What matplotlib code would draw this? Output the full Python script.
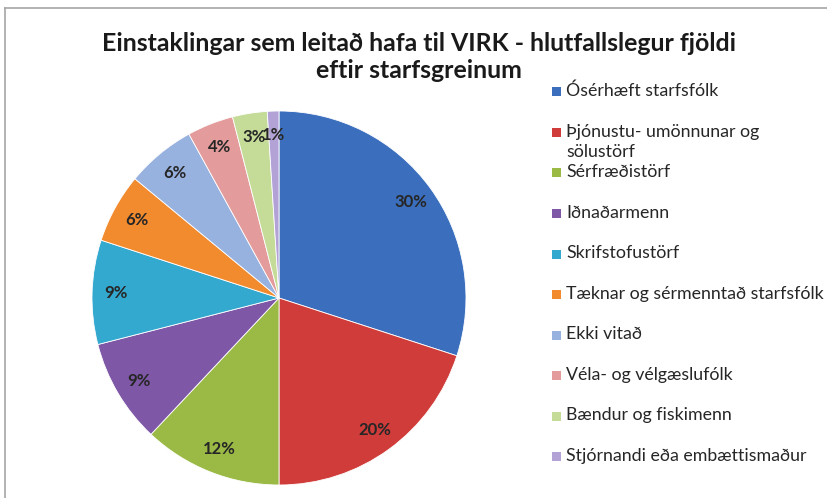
import matplotlib
matplotlib.use("Agg")
import matplotlib.pyplot as plt
from matplotlib.patches import Rectangle

title = "Einstaklingar sem leitað hafa til VIRK - hlutfallslegur fjöldi\neftir starfsgreinum"
categories = [
    "Ósérhæft starfsfólk",
    "Þjónustu- umönnunar og\nsölustörf",
    "Sérfræðistörf",
    "Iðnaðarmenn",
    "Skrifstofustörf",
    "Tæknar og sérmenntað starfsfólk",
    "Ekki vitað",
    "Véla- og vélgæslufólk",
    "Bændur og fiskimenn",
    "Stjórnandi eða embættismaður",
]
values = [30, 20, 12, 9, 9, 6, 6, 4, 3, 1]
colors = ["#3b6fbd", "#d03c3a", "#9aba45", "#7e57a6", "#33a9cf",
          "#f28a2e", "#98b2e0", "#e49b9b", "#c5dc99", "#b3a2d6"]

W, H = 827, 498
fig = plt.figure(figsize=(W / 100, H / 100), dpi=100)
fig.patch.set_facecolor("white")
plt.rcParams['font.family'] = ['Lato', 'DejaVu Sans']

# chart border (top and left visible)
fig.add_artist(plt.Line2D([5 / W, 1.0], [1 - 8 / H, 1 - 8 / H], color="#a6a6a6", lw=1.2,
                          transform=fig.transFigure))
fig.add_artist(plt.Line2D([5 / W, 5 / W], [0, 1 - 8 / H], color="#a6a6a6", lw=1.2,
                          transform=fig.transFigure))

# pie
cx, cy, r = 279, 298, 187
ax = fig.add_axes([(cx - r) / W, (H - cy - r) / H, 2 * r / W, 2 * r / H])
wedges, texts, autotexts = ax.pie(
    values, colors=colors, startangle=90, counterclock=False, radius=1.0,
    autopct=lambda p: f"{p:.0f}%", pctdistance=0.87,
    wedgeprops=dict(edgecolor="#ffffff", linewidth=0.6),
    textprops=dict(fontsize=12, fontweight="bold", color="#262626"),
)
ax.set_xlim(-1, 1)
ax.set_ylim(-1, 1)
ax.set_aspect("equal")
ax.axis("off")

fig.text(419 / W, 1 - 57 / H, title, ha="center", va="center", fontsize=17.9,
         fontweight="bold", color="#1a1a1a", linespacing=1.18)

# legend
y0, dy = 92, 40.5
for i, (lab, c) in enumerate(zip(categories, colors)):
    y = y0 + i * dy
    fig.add_artist(Rectangle((552 / W, 1 - (y + 4.5) / H), 9 / W, 9 / H, facecolor=c,
                             edgecolor="none", transform=fig.transFigure))
    fig.text(566 / W, 1 - (y - 9) / H, lab, ha="left", va="top", fontsize=12.8,
             color="#262626", linespacing=1.32)

fig.savefig("out.png", dpi=100)
